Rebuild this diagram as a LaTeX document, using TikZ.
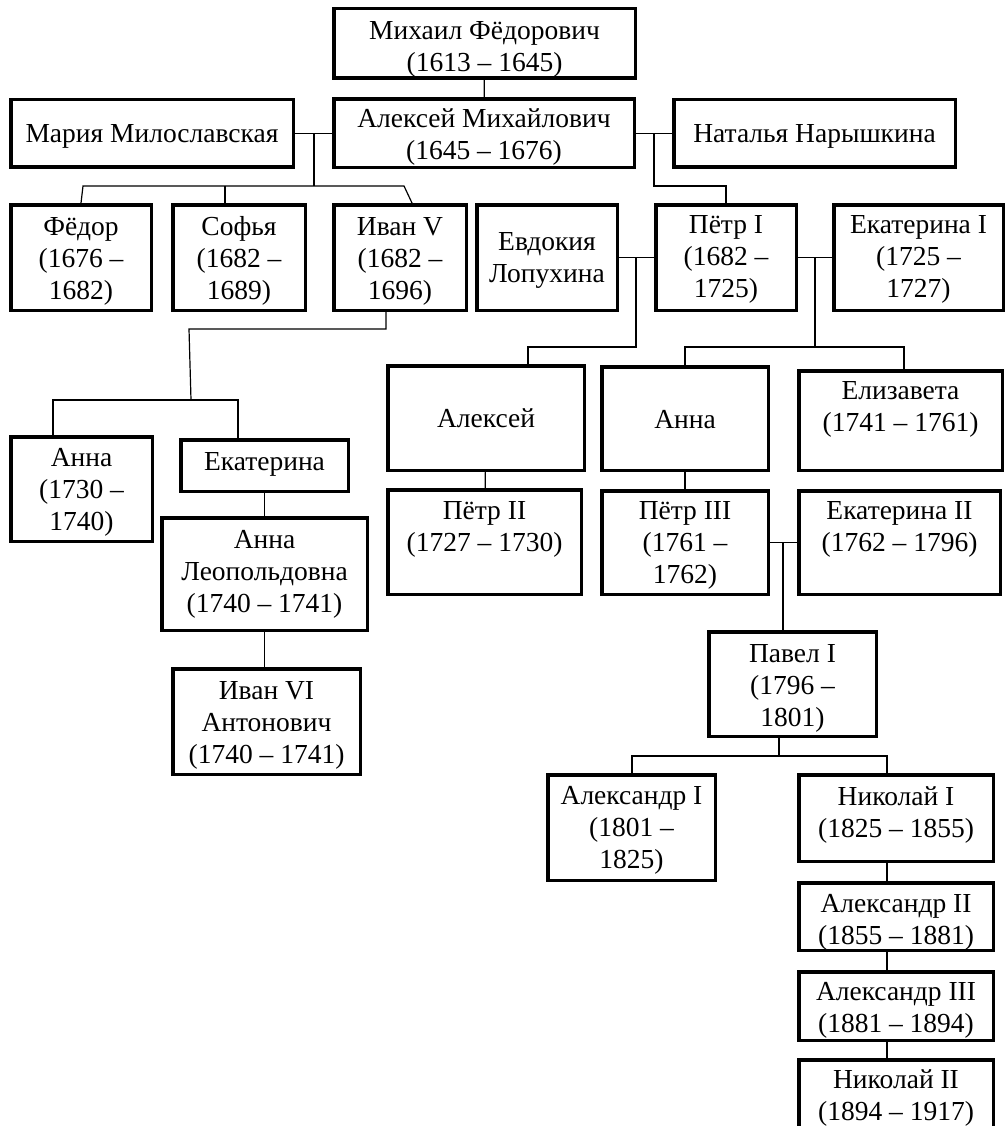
\documentclass[tikz,border=0pt]{standalone}
\usepackage{fontspec}
\setmainfont{Liberation Serif}
\newcommand\T[2][4pt]{\raisebox{-#1}[\height][\depth]{\begin{tabular}{@{}c@{}}#2\end{tabular}}}
\tikzset{
  box/.style={draw, line width=3.5pt, inner sep=0pt,
    font=\fontsize{27.5}{32}\selectfont},
  conn/.style={draw, line width=1.2pt}
}
\begin{document}
\begin{tikzpicture}[x=1pt,y=-1pt]
\path[use as bounding box, fill=white] (0,0) rectangle (1007,1126);
% row 1-2
\node[box, minimum width=301.5pt, minimum height=69.5pt] (mikhail) at (484.5,43.5) {\T[6pt]{Михаил Фёдорович\\(1613 – 1645)}};
\node[box, minimum width=282.5pt, minimum height=67.5pt] (maria) at (152,133.5) {\T[3pt]{Мария Милославская}};
\node[box, minimum width=300.5pt, minimum height=68.5pt] (aleksei) at (484,133.5) {\T[4pt]{Алексей Михайлович\\(1645 – 1676)}};
\node[box, minimum width=281.5pt, minimum height=67.5pt] (natalya) at (814.5,133.5) {\T[3pt]{Наталья Нарышкина}};
% row 3
\node[box, minimum width=140.5pt, minimum height=105.5pt] (fedor) at (81,257.5) {\T{Фёдор\\(1676 –\\1682)}};
\node[box, minimum width=132.5pt, minimum height=105.5pt] (sofya) at (239,257.5) {\T{Софья\\(1682 –\\1689)}};
\node[box, minimum width=132.5pt, minimum height=105.5pt] (ivan5) at (400,257.5) {\T{Иван V\\(1682 –\\1696)}};
\node[box, minimum width=140.5pt, minimum height=105.5pt] (evdokia) at (547,257.5) {\T[3pt]{Евдокия\\Лопухина}};
\node[box, minimum width=140.5pt, minimum height=105.5pt] (petr1) at (726,257.5) {\T[2pt]{Пётр I\\(1682 –\\1725)}};
\node[box, minimum width=169.5pt, minimum height=105.5pt] (ekat1) at (918.5,257.5) {\T[2pt]{Екатерина I\\(1725 –\\1727)}};
% left branch
\node[box, minimum width=141.5pt, minimum height=104.5pt] (anna1730) at (81.5,489) {\T[3pt]{Анна\\(1730 –\\1740)}};
\node[box, minimum width=167.5pt, minimum height=51.5pt] (ekaterina) at (264.5,465.5) {\T[-1pt]{Екатерина}};
\node[box, minimum width=205.5pt, minimum height=112.5pt] (annaleop) at (264.5,574) {\T[0pt]{Анна\\Леопольдовна\\(1740 – 1741)}};
\node[box, minimum width=187.5pt, minimum height=105.5pt] (ivan6) at (266.5,721.5) {\T{Иван VI\\Антонович\\(1740 – 1741)}};
% middle
\node[box, minimum width=196.5pt, minimum height=104.5pt] (aleksej) at (486,418) {\T[3.5pt]{Алексей}};
\node[box, minimum width=193.5pt, minimum height=104.5pt] (petr2) at (484.5,542) {\T[3.5pt]{Пётр II\\(1727 – 1730)\\\mbox{}}};
\node[box, minimum width=166.5pt, minimum height=103.5pt] (anna) at (685,418.5) {\T[3.5pt]{Анна}};
\node[box, minimum width=203.5pt, minimum height=99.5pt] (elizaveta) at (900.5,420.5) {\T[5pt]{Елизавета\\(1741 – 1761)\\\mbox{}}};
\node[box, minimum width=166.5pt, minimum height=103.5pt] (petr3) at (685,542.5) {\T[3pt]{Пётр III\\(1761 –\\1762)}};
\node[box, minimum width=201.5pt, minimum height=103.5pt] (ekat2) at (899.5,542.5) {\T[3pt]{Екатерина II\\(1762 – 1796)\\\mbox{}}};
\node[box, minimum width=167.5pt, minimum height=104.5pt] (pavel) at (792.5,684) {\T[4.5pt]{Павел I\\(1796 –\\1801)}};
\node[box, minimum width=167.5pt, minimum height=105.5pt] (alex1) at (631.5,827.5) {\T[3pt]{Александр I\\(1801 –\\1825)}};
\node[box, minimum width=194.5pt, minimum height=86.5pt] (nik1) at (896,818) {\T[-2.5pt]{Николай I\\(1825 – 1855)}};
\node[box, minimum width=194.5pt, minimum height=67.5pt] (alex2) at (896,916.5) {\T[6pt]{Александр II\\(1855 – 1881)}};
\node[box, minimum width=194.5pt, minimum height=68.5pt] (alex3) at (896,1006) {\T[4.5pt]{Александр III\\(1881 – 1894)}};
\node[box, minimum width=194.5pt, minimum height=73.5pt] (nik2) at (896,1096.5) {\T[1.5pt]{Николай II\\(1894 – 1917)}};

% connectors
\draw[conn] (mikhail) -- (aleksei);
\draw[conn] (maria) -- (aleksei);
\draw[conn] (aleksei) -- (natalya);
\coordinate (mm) at (314,133.5);
\coordinate (mmb) at (314,186);
\coordinate (cb1) at (83,186);
\coordinate (sb) at (225,186);
\coordinate (cb2) at (404,186);
\draw[conn] (mm) -- (mmb);
\draw[conn] (fedor.north) -- (cb1) -- (cb2) -- ([xshift=12pt]ivan5.north);
\draw[conn] (sb) -- (sofya.north -| sb);
\coordinate (an) at (654,133.5);
\coordinate (anb) at (654,186);
\draw[conn] (an) -- (anb) -- (anb -| petr1.north) -- (petr1.north);
\draw[conn] (evdokia) -- (petr1);
\coordinate (ep) at (636,257.5);
\coordinate (epb) at (636,347);
\coordinate (epl) at (528,347);
\draw[conn] (ep) -- (epb) -- (epl) -- (aleksej.north -| epl);
\draw[conn] (petr1) -- (ekat1);
\coordinate (pe) at (815,257.5);
\coordinate (peb) at (815,347);
\coordinate (pel) at (685,347);
\coordinate (per) at (904,347);
\draw[conn] (pe) -- (peb);
\draw[conn] (anna.north) -- (pel) -- (per) -- (elizaveta.north -| per);
\coordinate (iv) at (386,329);
\coordinate (ivl) at (189,329);
\coordinate (ivb) at (191,400);
\coordinate (ibl) at (53,400);
\coordinate (ibr) at (238,400);
\draw[conn] (ivan5.south -| iv) -- (iv) -- (ivl) -- (ivb);
\draw[conn] (anna1730.north -| ibl) -- (ibl) -- (ibr) -- (ekaterina.north -| ibr);
\draw[conn] (ekaterina) -- (annaleop);
\draw[conn] (annaleop.south) -- (ivan6.north -| annaleop.south);
\draw[conn] (aleksej) -- (petr2);
\draw[conn] (anna) -- (petr3);
\draw[conn] (petr3) -- (ekat2);
\coordinate (pk) at (783,542.5);
\draw[conn] (pk) -- (pavel.north -| pk);
\coordinate (pv) at (779,756);
\coordinate (pvl) at (632,756);
\coordinate (pvr) at (887,756);
\draw[conn] (pavel.south -| pv) -- (pv);
\draw[conn] (alex1.north -| pvl) -- (pvl) -- (pvr) -- (nik1.north -| pvr);
\draw[conn] (nik1.south -| pvr) -- (alex2.north -| pvr);
\draw[conn] (alex2.south -| pvr) -- (alex3.north -| pvr);
\draw[conn] (alex3.south -| pvr) -- (nik2.north -| pvr);
\end{tikzpicture}
\end{document}
